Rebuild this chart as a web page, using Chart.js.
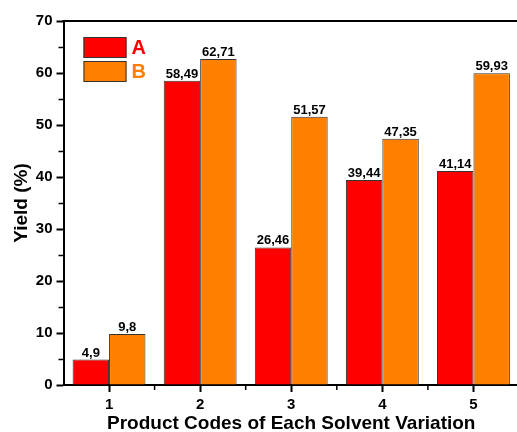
<!DOCTYPE html>
<html><head><meta charset="utf-8">
<script src="https://cdn.jsdelivr.net/npm/chart.js@4"></script>
<style>
html,body{margin:0;padding:0;overflow:hidden;background:#fff;width:517px;height:432px}
#wrap{width:530px;height:440px;position:relative}
</style></head>
<body><div id="wrap"><canvas id="c" width="530" height="440"></canvas></div>
<script>
const categories = ['1', '2', '3', '4', '5'];
const seriesNames = ['A', 'B'];
const seriesA = [4.9, 58.49, 26.46, 39.44, 41.14];
const seriesB = [9.8, 62.71, 51.57, 47.35, 59.93];
const yTicks = [0, 10, 20, 30, 40, 50, 60, 70];
const yMinorTicks = [5, 15, 25, 35, 45, 55, 65];
const colors = ['#FF0000', '#FF8000'];

const FONT = '"Liberation Sans", Arial, sans-serif';

const extras = {
  id: 'extras',
  afterDraw(chart) {
    const ctx = chart.ctx;
    const a = chart.chartArea;
    const xs = chart.scales.x, ys = chart.scales.y;
    ctx.save();
    // frame top/right
    ctx.strokeStyle = '#000';
    ctx.lineWidth = 2;
    ctx.beginPath();
    ctx.moveTo(a.left - 1, a.top);
    ctx.lineTo(a.right, a.top);
    ctx.lineTo(a.right, a.bottom);
    ctx.stroke();
    // minor ticks
    ctx.lineWidth = 1.5;
    ctx.beginPath();
    yMinorTicks.forEach(v => {
      const y = Math.round(ys.getPixelForValue(v)) + 0.5;
      ctx.moveTo(a.left, y); ctx.lineTo(a.left - 5, y);
    });
    for (let i = 0; i < categories.length - 1; i++) {
      const x = (xs.getPixelForValue(i) + xs.getPixelForValue(i + 1)) / 2;
      ctx.moveTo(x, a.bottom); ctx.lineTo(x, a.bottom + 5);
    }
    ctx.stroke();
    // data labels
    ctx.fillStyle = '#000';
    ctx.font = 'bold 13px ' + FONT;
    ctx.textAlign = 'center';
    ctx.textBaseline = 'alphabetic';
    chart.data.datasets.forEach((ds, i) => {
      chart.getDatasetMeta(i).data.forEach((bar, j) => {
        ctx.fillText(String(ds.data[j]).replace('.', ','), bar.x, bar.y - 3);
      });
    });
    // legend
    const bx = a.left + 20, by = a.top + 16, bw = 43, bh = 21, gap = 24;
    chart.data.datasets.forEach((ds, i) => {
      const y = by + i * gap;
      ctx.fillStyle = ds.backgroundColor;
      ctx.fillRect(bx, y, bw, bh);
      ctx.strokeStyle = '#333';
      ctx.lineWidth = 1;
      ctx.strokeRect(bx + 0.5, y + 0.5, bw - 1, bh - 1);
      ctx.fillStyle = ds.backgroundColor;
      ctx.font = 'bold 20px ' + FONT;
      ctx.textAlign = 'left';
      ctx.textBaseline = 'middle';
      ctx.fillText(ds.label, bx + bw + 5, y + bh / 2 + 1);
    });
    ctx.restore();
  }
};

new Chart(document.getElementById('c'), {
  type: 'bar',
  data: {
    labels: categories,
    datasets: [
      { label: seriesNames[0], data: seriesA, backgroundColor: colors[0], borderColor: '#333', borderWidth: 1, barPercentage: 1, categoryPercentage: 0.8 },
      { label: seriesNames[1], data: seriesB, backgroundColor: colors[1], borderColor: '#333', borderWidth: 1, barPercentage: 1, categoryPercentage: 0.8 }
    ]
  },
  options: {
    responsive: false,
    animation: false,
    devicePixelRatio: 1,
    layout: { padding: { top: 21, right: 11, bottom: 5, left: 0 } },
    plugins: { legend: { display: false }, tooltip: { enabled: false } },
    scales: {
      x: {
        offset: true,
        grid: { display: true, offset: false, drawOnChartArea: false, drawTicks: true, tickLength: 7, tickWidth: 2, tickColor: '#000' },
        border: { display: true, color: '#000', width: 2 },
        ticks: { color: '#000', font: { family: FONT, size: 15, weight: 'bold' }, padding: 4, maxRotation: 0 },
        title: { display: true, text: 'Product Codes of Each Solvent Variation', color: '#000', font: { family: FONT, size: 19, weight: 'bold' }, padding: { top: 0, bottom: 0 } },
        afterFit: s => { s.height = 50; }
      },
      y: {
        min: 0, max: 70,
        afterBuildTicks: s => { s.ticks = yTicks.map(v => ({ value: v })); },
        grid: { display: true, drawOnChartArea: false, drawTicks: true, tickLength: 7, tickWidth: 2, tickColor: '#000' },
        border: { display: true, color: '#000', width: 2 },
        ticks: { color: '#000', font: { family: FONT, size: 15, weight: 'bold' }, padding: 4 },
        title: { display: true, text: 'Yield (%)', color: '#000', font: { family: FONT, size: 19, weight: 'bold' }, padding: { top: 10, bottom: 0 } },
        afterFit: s => { s.width = 63.5; }
      }
    }
  },
  plugins: [extras]
});
</script>
</body></html>
